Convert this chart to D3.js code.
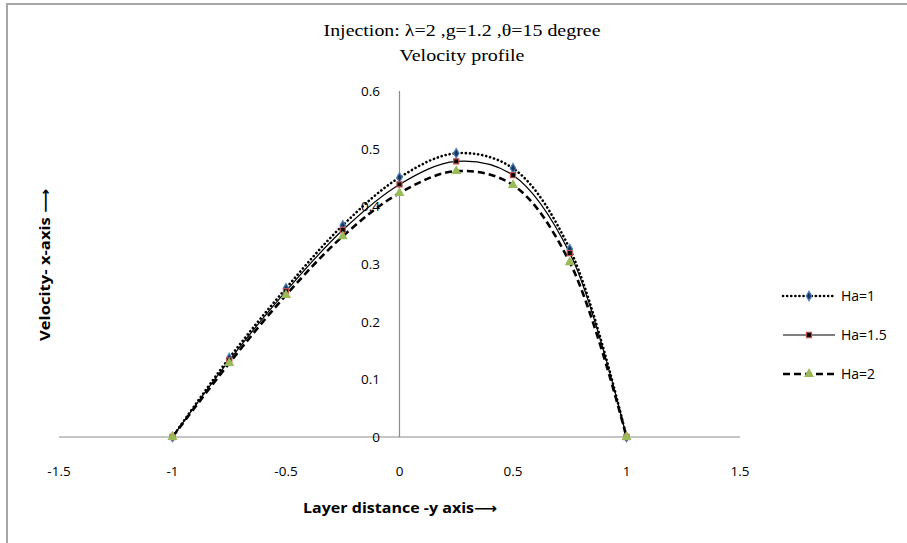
<!DOCTYPE html>
<html>
<head>
<meta charset="utf-8">
<script src="https://cdn.jsdelivr.net/npm/d3@7"></script>
<style>
  body { margin: 0; background: #fff; }
  svg { display: block; }
</style>
</head>
<body>
<script>
// layer distance values
const xs = [-1, -0.75, -0.5, -0.25, 0, 0.25, 0.5, 0.75, 1];

// velocity values
const ha1 = [0, 0.137, 0.258, 0.367, 0.450, 0.492, 0.466, 0.326, 0];
const ha15 = [0, 0.133, 0.253, 0.359, 0.438, 0.478, 0.454, 0.319, 0];
const ha2 = [0, 0.128, 0.246, 0.348, 0.423, 0.461, 0.437, 0.303, 0];

const seriesNames = ["Ha=1", "Ha=1.5", "Ha=2"];
const xTicks = [-1.5, -1, -0.5, 0, 0.5, 1, 1.5];
const yTicks = [0, 0.1, 0.2, 0.3, 0.4, 0.5, 0.6];

const W = 907, H = 543;

const svg = d3.select("body").append("svg")
  .attr("width", W)
  .attr("height", H);

// outer frame (only top and left edges visible)
svg.append("path")
  .attr("d", `M7,${H} L7,4 L${W},4`)
  .attr("fill", "none")
  .attr("stroke", "#a6a6a6")
  .attr("stroke-width", 2);

const x = d3.scaleLinear().domain([-1.5, 1.5]).range([59, 740]);
const y = d3.scaleLinear().domain([0, 0.6]).range([437, 91]);

// axis lines cross at origin
svg.append("line")
  .attr("x1", x(-1.5)).attr("x2", x(1.5))
  .attr("y1", y(0)).attr("y2", y(0))
  .attr("stroke", "#8c8c8c").attr("stroke-width", 1.2);

svg.append("line")
  .attr("x1", x(0)).attr("x2", x(0))
  .attr("y1", y(0.6)).attr("y2", y(0))
  .attr("stroke", "#8c8c8c").attr("stroke-width", 1.2);

const tickFont = "'Open Sans', 'DejaVu Sans', sans-serif";

svg.append("g").selectAll("text")
  .data(xTicks)
  .join("text")
  .attr("x", d => x(d))
  .attr("y", 476)
  .attr("text-anchor", "middle")
  .attr("font-family", tickFont)
  .attr("font-size", 13.5)
  .attr("fill", "#000")
  .text(d => d);

svg.append("g").selectAll("text")
  .data(yTicks)
  .join("text")
  .attr("x", 380)
  .attr("y", d => y(d) + 5)
  .attr("text-anchor", "end")
  .attr("font-family", tickFont)
  .attr("font-size", 13.5)
  .attr("fill", "#000")
  .text(d => d);

// titles
const titleFont = "'Liberation Serif', 'Times New Roman', serif";
svg.append("text")
  .attr("x", 462).attr("y", 36)
  .attr("text-anchor", "middle")
  .attr("font-family", titleFont)
  .attr("font-size", 17)
  .attr("textLength", 277)
  .attr("lengthAdjust", "spacingAndGlyphs")
  .text("Injection: \u03bb=2 ,g=1.2  ,\u03b8=15  degree");

svg.append("text")
  .attr("x", 462).attr("y", 61)
  .attr("text-anchor", "middle")
  .attr("font-family", titleFont)
  .attr("font-size", 17)
  .attr("textLength", 125)
  .attr("lengthAdjust", "spacingAndGlyphs")
  .text("Velocity profile");

svg.append("text")
  .attr("x", 400).attr("y", 513)
  .attr("text-anchor", "middle")
  .attr("font-family", tickFont)
  .attr("font-size", 14)
  .attr("font-weight", "bold")
  .attr("textLength", 194)
  .attr("lengthAdjust", "spacingAndGlyphs")
  .text("Layer distance -y axis\u27f6");

svg.append("text")
  .attr("transform", "translate(50,265) rotate(-90)")
  .attr("text-anchor", "middle")
  .attr("font-family", tickFont)
  .attr("font-size", 14)
  .attr("font-weight", "bold")
  .attr("textLength", 152)
  .attr("lengthAdjust", "spacingAndGlyphs")
  .text("Velocity- x-axis \u27f6");

// series
const series = [
  { name: seriesNames[0], values: ha1, dash: "0.1 4", width: 2.6, cap: "round", marker: d3.symbolDiamond, fill: "#17375e", stroke: "#4f81bd" },
  { name: seriesNames[1], values: ha15, dash: null, width: 1.2, cap: "butt", marker: d3.symbolSquare, fill: "#000", stroke: "#c0504d" },
  { name: seriesNames[2], values: ha2, dash: "7 4", width: 2.6, cap: "butt", marker: d3.symbolTriangle, fill: "#9bbb59", stroke: "#9bbb59" }
];

const line = d3.line()
  .x(d => x(d[0]))
  .y(d => y(d[1]))
  .curve(d3.curveCatmullRom.alpha(0.5));

series.forEach(s => {
  const pts = xs.map((v, i) => [v, s.values[i]]);
  svg.append("path")
    .datum(pts)
    .attr("d", line)
    .attr("fill", "none")
    .attr("stroke", "#000")
    .attr("stroke-width", s.width)
    .attr("stroke-linecap", s.cap)
    .attr("stroke-dasharray", s.dash);
});

const markerSize = s => s.marker === d3.symbolTriangle ? 28 : 26;

series.forEach(s => {
  const pts = xs.map((v, i) => [v, s.values[i]]);
  svg.append("g").selectAll("path")
    .data(pts)
    .join("path")
    .attr("transform", d => `translate(${x(d[0])},${y(d[1])})`)
    .attr("d", d3.symbol().type(s.marker).size(markerSize(s)))
    .attr("fill", s.fill)
    .attr("stroke", s.stroke)
    .attr("stroke-width", 1.2);
});

// legend
const legend = svg.append("g");
series.forEach((s, i) => {
  const ly = 296 + i * 39;
  legend.append("line")
    .attr("x1", 783).attr("x2", 835)
    .attr("y1", ly).attr("y2", ly)
    .attr("stroke", "#000")
    .attr("stroke-width", s.width)
    .attr("stroke-linecap", s.cap)
    .attr("stroke-dasharray", s.dash);
  legend.append("path")
    .attr("transform", `translate(809,${ly})`)
    .attr("d", d3.symbol().type(s.marker).size(markerSize(s)))
    .attr("fill", s.fill)
    .attr("stroke", s.stroke)
    .attr("stroke-width", 1.2);
  legend.append("text")
    .attr("x", 841).attr("y", ly + 5)
    .attr("font-family", tickFont)
    .attr("font-size", 14)
    .text(s.name);
});
</script>
</body>
</html>
